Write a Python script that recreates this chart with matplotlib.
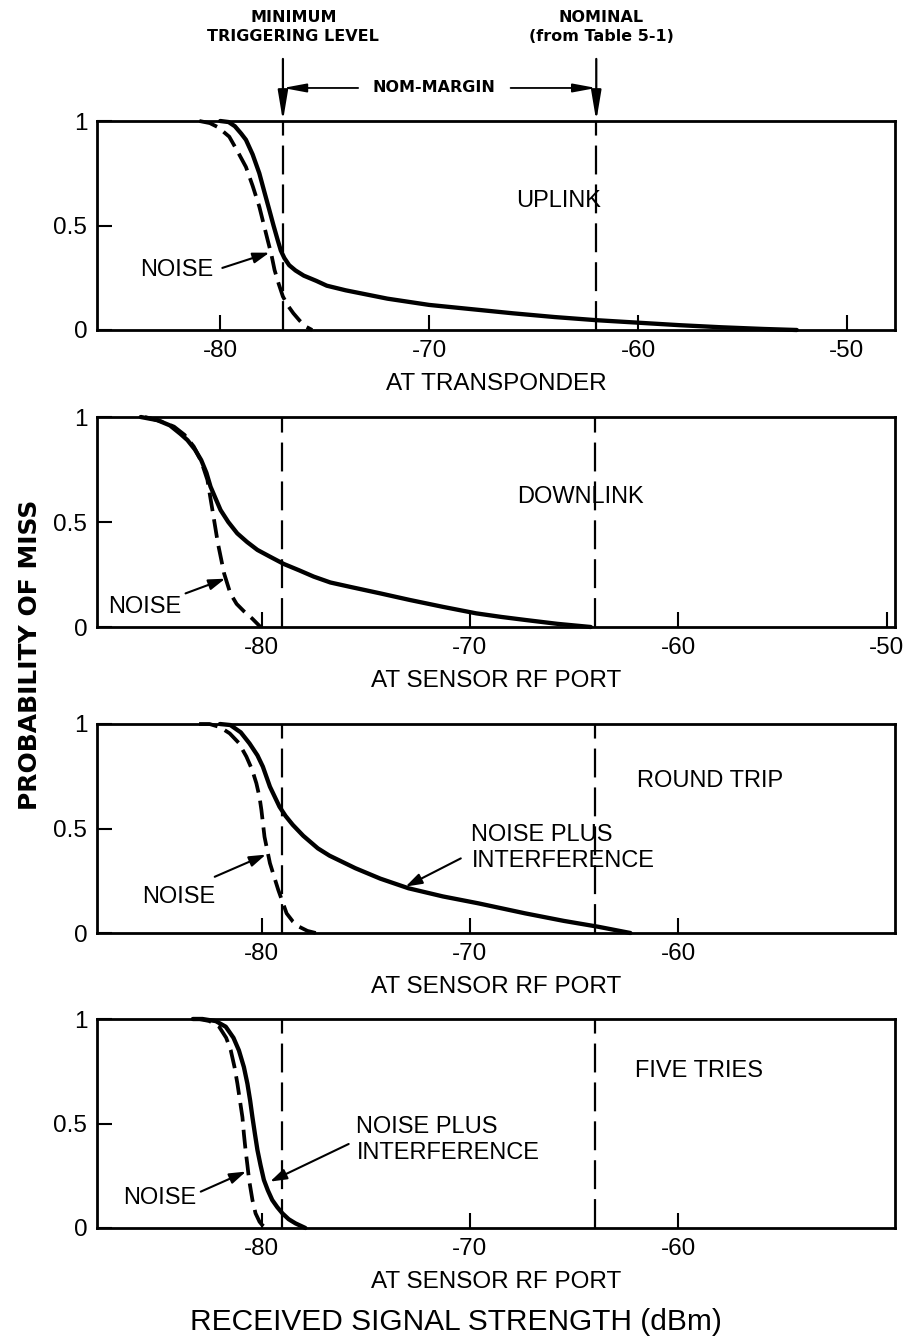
import matplotlib.pyplot as plt

plt.rcParams['font.family'] = ['Liberation Sans', 'DejaVu Sans']
plt.rcParams['axes.unicode_minus'] = False

###################################################
#####################THE DATA######################
###################################################

# uplink, measured at the transponder
up_dbm = [-80.0, -79.6, -79.3, -79.0, -78.77, -78.45, -78.13, -77.9, -77.65, -77.45, -77.25, -77.1,
          -76.93, -76.7, -76.4, -76.0, -75.4, -74.9, -74.0, -73.0, -72.0, -71.0, -70.0, -68.0,
          -66.0, -64.0, -62.0, -60.0, -58.0, -56.0, -54.0, -52.4]
up_miss = [1.0, 0.995, 0.975, 0.94, 0.91, 0.84, 0.75, 0.665, 0.574, 0.5, 0.43, 0.38,
           0.344, 0.31, 0.285, 0.26, 0.235, 0.212, 0.19, 0.17, 0.15, 0.135, 0.12, 0.1,
           0.08, 0.062, 0.047, 0.035, 0.023, 0.013, 0.005, 0.0]
up_noise_dbm = [-81.0, -80.5, -80.1, -79.57, -79.2, -78.77, -78.45, -78.13, -77.93, -77.73,
                -77.55, -77.4, -77.2, -77.0, -76.75, -76.5, -76.2, -75.9, -75.6]
up_noise_miss = [1.0, 0.99, 0.97, 0.925, 0.86, 0.78, 0.69, 0.59, 0.51, 0.43,
                 0.36, 0.287, 0.22, 0.16, 0.115, 0.08, 0.045, 0.016, 0.0]

# downlink, at sensor rf port
dn_dbm = [-85.8, -85.0, -84.4, -83.9, -83.56, -83.2, -82.9, -82.65, -82.45, -82.2, -81.97, -81.6,
          -81.17, -80.7, -80.2, -79.6, -78.93, -78.2, -77.5, -76.7, -75.7, -74.3, -72.9, -71.3,
          -69.7, -68.5, -67.3, -65.8, -64.2]
dn_miss = [1.0, 0.985, 0.96, 0.92, 0.89, 0.845, 0.795, 0.735, 0.668, 0.61, 0.557, 0.5,
           0.446, 0.405, 0.367, 0.335, 0.3, 0.27, 0.24, 0.212, 0.19, 0.16, 0.129, 0.096,
           0.065, 0.048, 0.033, 0.015, 0.0]
dn_noise_dbm = [-85.6, -85.2, -84.7, -84.2, -83.7, -83.26, -82.9, -82.6, -82.36, -82.1, -81.8,
                -81.5, -81.2, -80.85, -80.45, -80.05]
dn_noise_miss = [1.0, 0.99, 0.975, 0.954, 0.915, 0.86, 0.79, 0.7, 0.557, 0.4, 0.255,
                 0.16, 0.11, 0.075, 0.04, 0.0]

# round trip, at sensor rf port
rt_dbm = [-82.0, -81.5, -81.0, -80.58, -80.2, -79.94, -79.6, -79.14, -78.85, -78.5, -78.0, -77.3,
          -76.74, -75.5, -74.3, -72.95, -71.3, -69.6, -67.35, -65.5, -63.85, -62.3]
rt_miss = [1.0, 0.995, 0.96, 0.907, 0.85, 0.796, 0.7, 0.604, 0.56, 0.517, 0.465, 0.405,
           0.37, 0.31, 0.26, 0.214, 0.175, 0.142, 0.094, 0.058, 0.03, 0.0]
rt_noise_dbm = [-83.0, -82.5, -82.0, -81.53, -81.1, -80.73, -80.45, -80.25, -80.1, -80.01, -79.86,
                -79.6, -79.4, -79.2, -78.8, -78.5, -78.2, -77.8, -77.4]
rt_noise_miss = [1.0, 1.0, 0.985, 0.955, 0.91, 0.844, 0.78, 0.716, 0.65, 0.589, 0.46,
                 0.334, 0.27, 0.206, 0.094, 0.055, 0.03, 0.01, 0.0]

# five tries, at sensor rf port
ft_dbm = [-83.3, -82.84, -82.2, -81.72, -81.35, -81.09, -80.85, -80.68, -80.55, -80.44, -80.32,
          -80.2, -80.05, -79.89, -79.7, -79.49, -79.25, -79.0, -78.7, -78.37, -77.9]
ft_miss = [1.0, 1.0, 0.99, 0.963, 0.91, 0.85, 0.77, 0.69, 0.61, 0.53, 0.45,
           0.373, 0.3, 0.23, 0.18, 0.134, 0.1, 0.07, 0.042, 0.022, 0.0]
ft_noise_dbm = [-83.3, -83.0, -82.5, -82.04, -81.7, -81.48, -81.3, -81.16, -81.04, -80.92, -80.85,
                -80.77, -80.68, -80.6, -80.44, -80.29, -80.1, -79.97, -79.8]
ft_noise_miss = [1.0, 1.0, 0.99, 0.963, 0.91, 0.85, 0.77, 0.69, 0.61, 0.53, 0.45,
                 0.373, 0.3, 0.23, 0.134, 0.07, 0.03, 0.014, 0.0]

min_trigger = [-77.0, -79.0, -79.0, -79.0]                 # minimum triggering level (dBm)
nominal_level = [-62.0, -64.0, -64.0, -64.0]               # nominal, from table 5-1 (dBm)
panel_names = ['UPLINK', 'DOWNLINK', 'ROUND TRIP', 'FIVE TRIES']
x_titles = ['AT TRANSPONDER', 'AT SENSOR RF PORT', 'AT SENSOR RF PORT', 'AT SENSOR RF PORT']
x_ticks = [[-80, -70, -60, -50], [-80, -70, -60, -50], [-80, -70, -60], [-80, -70, -60]]
y_ticks = [0, 0.5, 1]
y_ticklabels = ['0', '0.5', '1']

curves = [(up_dbm, up_miss, up_noise_dbm, up_noise_miss),
          (dn_dbm, dn_miss, dn_noise_dbm, dn_noise_miss),
          (rt_dbm, rt_miss, rt_noise_dbm, rt_noise_miss),
          (ft_dbm, ft_miss, ft_noise_dbm, ft_noise_miss)]

###################################################
####################LAYOUT#########################
###################################################

W, H = 911, 1339
fig = plt.figure(figsize=(W / 100, H / 100), dpi=100)

ax_px = [(121, 330), (417, 627), (724, 933), (1019, 1228)]   # top/bottom of each frame
left_px, right_px = 97, 895
x_limits = [(-85.9, -47.7), (-87.9, -49.6), (-87.9, -49.6), (-87.9, -49.6)]

# where the in-plot labels go: name, noise label, noise arrow tail/tip, n+i label, n+i arrow tail/tip
name_pos = [(-63.8, 0.615), (-64.7, 0.62), (-58.5, 0.725), (-59.0, 0.75)]
noise_txt = [(-82.1, 0.287), (-85.6, 0.097), (-84.0, 0.174), (-84.9, 0.142)]
noise_arr = [((-79.9, 0.297), (-77.65, 0.37)),
             ((-83.65, 0.16), (-81.75, 0.23)),
             ((-82.25, 0.269), (-79.8, 0.375)),
             ((-82.92, 0.174), (-80.75, 0.27))]
npi_txt = [None, None, (-69.93, 0.405), (-75.45, 0.421)]
npi_arr = [None, None,
           ((-70.44, 0.357), (-73.09, 0.222)),
           ((-75.82, 0.402), (-79.59, 0.222))]

arrow_kw = dict(arrowstyle='-|>,head_length=0.55,head_width=0.18', lw=1.5, color='k',
                mutation_scale=18, shrinkA=0, shrinkB=0)

axes = []
for i in range(4):
    top, bot = ax_px[i]
    ax = fig.add_axes([left_px / W, 1 - bot / H, (right_px - left_px) / W, (bot - top) / H])
    axes.append(ax)
    dbm, miss, ndbm, nmiss = curves[i]

    ax.plot(dbm, miss, color='k', lw=3.1, solid_joinstyle='round', solid_capstyle='round',
            clip_on=False)
    ax.plot(ndbm, nmiss, color='k', lw=2.7, ls=(0, (5, 2.2)), clip_on=False)
    ax.axvline(min_trigger[i], color='k', lw=1.6, ls=(0, (13, 4.5)))
    ax.axvline(nominal_level[i], color='k', lw=1.6, ls=(0, (13, 4.5)))

    ax.set_xlim(*x_limits[i])
    ax.set_ylim(0, 1)
    ax.set_xticks(x_ticks[i])
    ax.set_xticklabels([str(t) for t in x_ticks[i]])
    ax.set_yticks(y_ticks)
    ax.set_yticklabels(y_ticklabels)
    ax.tick_params(direction='in', length=11, width=1.5, labelsize=17.5, pad=7)
    for s in ax.spines.values():
        s.set_linewidth(2.0)
    ax.set_xlabel(x_titles[i], fontsize=17.5, labelpad=8)

    ax.text(*name_pos[i], panel_names[i], fontsize=17, ha='center', va='center')
    ax.text(*noise_txt[i], 'NOISE', fontsize=17, ha='center', va='center')
    ax.annotate('', xy=noise_arr[i][1], xytext=noise_arr[i][0], arrowprops=arrow_kw)
    if npi_txt[i] is not None:
        ax.text(*npi_txt[i], 'NOISE PLUS\nINTERFERENCE', fontsize=17, ha='left', va='center',
                linespacing=1.25)
        ax.annotate('', xy=npi_arr[i][1], xytext=npi_arr[i][0], arrowprops=arrow_kw)

###################################################
###########MARGIN MARKERS ABOVE THE TOP############
###################################################

ax1 = axes[0]
tr = ax1.get_xaxis_transform()
head_kw = dict(family='DejaVu Sans', fontweight='bold', fontsize=11.5, ha='center', va='center',
               linespacing=1.3, transform=tr)
ax1.text(-76.5, 1.45, 'MINIMUM\nTRIGGERING LEVEL', **head_kw)
ax1.text(-61.75, 1.45, 'NOMINAL\n(from Table 5-1)', **head_kw)
ax1.text(-69.75, 1.158, 'NOM-MARGIN', **head_kw)

down_kw = dict(arrowstyle='-|>,head_length=0.9,head_width=0.15', lw=1.6, color='k',
               mutation_scale=20, shrinkA=0, shrinkB=0)
for x in (min_trigger[0], nominal_level[0]):
    ax1.annotate('', xy=(x, 1.0), xytext=(x, 1.297), xycoords=tr, textcoords=tr,
                 arrowprops=down_kw, annotation_clip=False)

side_kw = dict(arrowstyle='-|>,head_length=0.7,head_width=0.13', lw=1.3, color='k',
               mutation_scale=20, shrinkA=0, shrinkB=0)
ax1.annotate('', xy=(min_trigger[0], 1.158), xytext=(-73.4, 1.158), xycoords=tr, textcoords=tr,
             arrowprops=side_kw, annotation_clip=False)
ax1.annotate('', xy=(nominal_level[0], 1.158), xytext=(-66.1, 1.158), xycoords=tr, textcoords=tr,
             arrowprops=side_kw, annotation_clip=False)

fig.text(30 / W, 1 - 655 / H, 'PROBABILITY OF MISS', rotation=90, ha='center', va='center',
         fontsize=18, family='DejaVu Sans', fontweight='bold')
fig.text(0.5, 1 - 1322 / H, 'RECEIVED SIGNAL STRENGTH (dBm)', ha='center', va='center',
         fontsize=21.5)

plt.savefig('out.png', dpi=100)
